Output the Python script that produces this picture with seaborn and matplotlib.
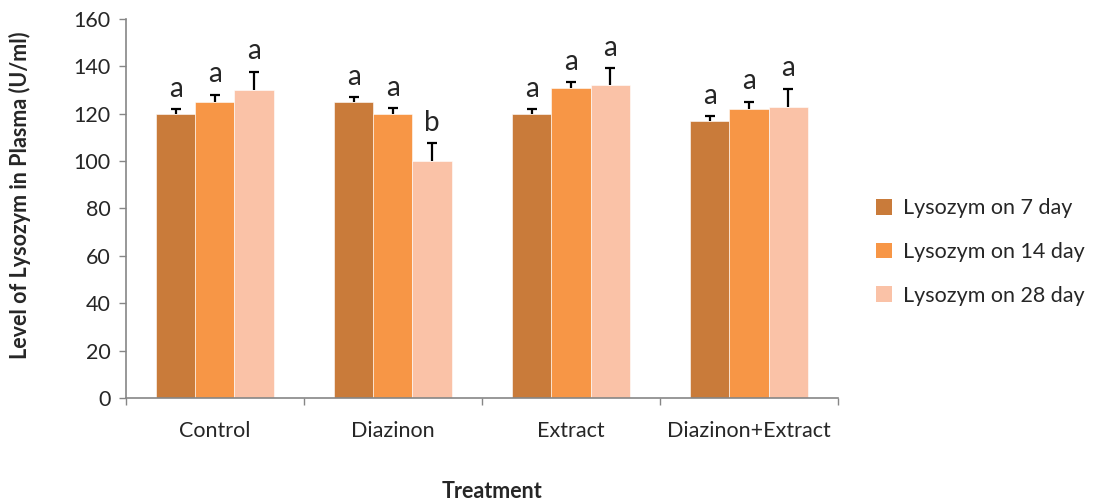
import numpy as np
import pandas as pd
import matplotlib
matplotlib.use("Agg")
import matplotlib.pyplot as plt
import seaborn as sns

# Plasma lysozyme level (U/ml) by treatment and sampling day
treatments = ["Control", "Diazinon", "Extract", "Diazinon+Extract"]
series = ["Lysozym on 7 day", "Lysozym on 14 day", "Lysozym on 28 day"]
day7 = [120, 125, 120, 117]
day14 = [125, 120, 131, 122]
day28 = [130, 100, 132, 123]
err7 = [2, 2, 2, 2]
err14 = [3, 2.3, 2.3, 3]
err28 = [7.7, 7.5, 7.3, 7.5]
letters7 = ["a", "a", "a", "a"]
letters14 = ["a", "a", "a", "a"]
letters28 = ["a", "b", "a", "a"]
colors = ["#C97B3A", "#F79646", "#FAC2A7"]

values = [day7, day14, day28]
errors = [err7, err14, err28]
letters = [letters7, letters14, letters28]

df = pd.DataFrame({
    "Treatment": np.tile(treatments, len(series)),
    "Series": np.repeat(series, len(treatments)),
    "Level": np.concatenate(values),
})

sns.set_style("white")
plt.rcParams["font.family"] = ["Lato", "DejaVu Sans"]
FS = 15.5

fig = plt.figure(figsize=(10.94, 5.03), dpi=100)
ax = fig.add_axes([0.115, 0.209, 0.651, 0.753])

sns.barplot(data=df, x="Treatment", y="Level", hue="Series",
            order=treatments, hue_order=series, palette=colors,
            errorbar=None, width=0.66, saturation=1,
            edgecolor="white", linewidth=0.4, ax=ax)

for cont, errs, labs in zip(ax.containers, errors, letters):
    for bar, e, lab in zip(cont, errs, labs):
        cx = bar.get_x() + bar.get_width() / 2
        h = bar.get_height()
        # upper-only error bar (T shape)
        _, caps, _ = ax.errorbar(cx, h, yerr=[[0], [e]], fmt="none",
                                 ecolor="black", elinewidth=1.6,
                                 capsize=3.8, capthick=1.6)
        caps[0].set_visible(False)
        ax.annotate(lab, (cx, h + e), xytext=(0, 9),
                    textcoords="offset points", ha="center",
                    va="baseline", fontsize=20)

ax.set_ylim(0, 160)
ax.set_yticks(np.arange(0, 161, 20))
ax.set_xlim(-0.5, len(treatments) - 0.5)

# category boundary ticks on the x axis
ax.set_xticks(np.arange(-0.5, len(treatments), 1.0), minor=True)
ax.tick_params(axis="x", which="major", length=0, pad=17, labelsize=FS)
ax.tick_params(axis="x", which="minor", length=5, width=1, color="#868686",
               direction="out", bottom=True)
ax.tick_params(axis="y", length=5, width=1, color="#868686", direction="out",
               left=True, labelsize=FS, pad=6)

for side in ["top", "right"]:
    ax.spines[side].set_visible(False)
for side in ["left", "bottom"]:
    ax.spines[side].set_color("#868686")
    ax.spines[side].set_linewidth(1.2)

ax.set_ylabel("Level of Lysozym in Plasma (U/ml)", fontsize=FS,
              fontweight="bold", va="center")
ax.yaxis.set_label_coords(-0.149, 0.536)
ax.set_xlabel("Treatment", fontsize=FS, fontweight="bold", va="center")
ax.xaxis.set_label_coords(0.514, -0.248)

leg = ax.legend(loc="center left", bbox_to_anchor=(1.053, 0.385),
                frameon=False, fontsize=FS, handlelength=0.75,
                handleheight=0.75, handletextpad=0.5, labelspacing=1.1,
                borderaxespad=0, borderpad=0)
for h in leg.legend_handles:
    h.set_edgecolor("none")

fig.savefig("out.png", dpi=100)
